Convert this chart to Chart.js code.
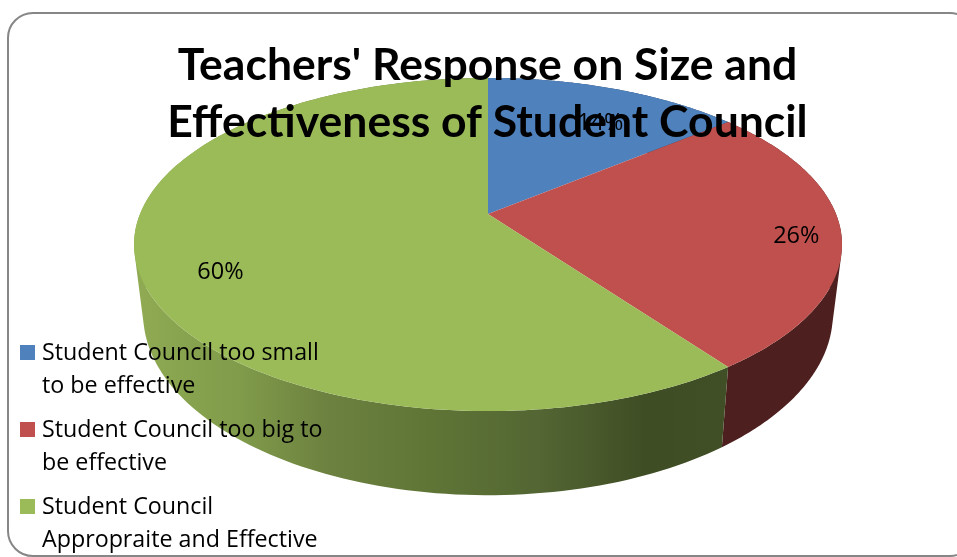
<!DOCTYPE html>
<html>
<head>
<meta charset="utf-8">
<script src="https://cdn.jsdelivr.net/npm/chart.js@4"></script>
<style>
  html, body { margin: 0; padding: 0; background: #fff; overflow: hidden; }
  #wrap { position: relative; width: 957px; height: 557px; overflow: hidden; }
  #frame { position: absolute; left: 7px; top: 12px; width: 965px; height: 541px;
           border: 2px solid #868686; border-radius: 26px; }
  #chart { position: absolute; left: 0; top: 0; }
  #legend { position: absolute; left: 20px; top: 335px; font: 23.25px/32.5px "Open Sans", sans-serif; color: #000; }
  .item { position: relative; padding-left: 22px; margin-bottom: 12px; white-space: pre; }
  .item i { position: absolute; left: 0; top: 10px; width: 15px; height: 15px; }
</style>
</head>
<body>
<div id="wrap">
  <div id="frame"></div>
  <canvas id="chart" width="957" height="557"></canvas>
  <div id="legend"></div>
</div>
<script>
// data
const categories = [
  ["Student Council too small", "to be effective"],
  ["Student Council too big to", "be effective"],
  ["Student Council", "Appropraite and Effective"]
];
const shares = [14, 26, 60];
const titleLines = ["Teachers' Response on Size and", "Effectiveness of Student Council"];
const sliceColors = ["#4f81bd", "#c0504d", "#9bbb59"];

// how far out each percent label sits, and a small drop
const labelRadius = [0.866, 0.875, 0.773];
const labelDrop = [20, 4, 18];

// pie seen in perspective: top face and bottom rim
const apexX = 488;
const tilt = -0.183;
const topFace = { a: 348, b: 161, c: 214 };
const bottomRim = { a: 339, b: 175, c: 281 };
const steps = 160;

function project(face, theta, r) {
  const u = Math.sin(theta) * r;
  const v = -Math.cos(theta) * r;
  const w = 1 + tilt * v;
  return { x: apexX + face.a * u / w, y: face.c + face.b * v / w };
}

function edge(ctx, face, from, to) {
  for (let i = 0; i <= steps; i++) {
    const p = project(face, from + (to - from) * i / steps, 1);
    ctx.lineTo(p.x, p.y);
  }
}

function wallFill(ctx, index) {
  if (index === 1) return "#4d1f1e";
  if (index === 0) return "#27405e";
  const g = ctx.createLinearGradient(134, 0, 728, 0);
  g.addColorStop(0, "#90ab53");
  g.addColorStop(0.18, "#809b4a");
  g.addColorStop(0.32, "#6d8240");
  g.addColorStop(0.5, "#5f7536");
  g.addColorStop(0.68, "#536633");
  g.addColorStop(0.86, "#3f4d24");
  g.addColorStop(1, "#414f26");
  return g;
}

const perspectivePie = {
  id: "perspectivePie",
  // painted here so the title box goes on top of the pie
  beforeDraw(chart) {
    const ctx = chart.ctx;
    const arcs = chart.getDatasetMeta(0).data;
    const angles = arcs.map(a => [a.startAngle + Math.PI / 2, a.endAngle + Math.PI / 2]);

    // side wall: strips in one path, all wound the same way so there are no seams
    angles.forEach(([from, to], i) => {
      ctx.beginPath();
      for (let s = 0; s < steps; s++) {
        const t0 = from + (to - from) * s / steps;
        const t1 = from + (to - from) * (s + 1) / steps;
        let q = [project(topFace, t0, 1), project(topFace, t1, 1), project(bottomRim, t1, 1), project(bottomRim, t0, 1)];
        let area = 0;
        q.forEach((p, k) => {
          const n = q[(k + 1) % 4];
          area += p.x * n.y - n.x * p.y;
        });
        if (area < 0) q = q.reverse();
        ctx.moveTo(q[0].x, q[0].y);
        ctx.lineTo(q[1].x, q[1].y);
        ctx.lineTo(q[2].x, q[2].y);
        ctx.lineTo(q[3].x, q[3].y);
        ctx.closePath();
      }
      ctx.fillStyle = wallFill(ctx, i);
      ctx.fill();
    });

    // top face
    angles.forEach(([from, to], i) => {
      ctx.beginPath();
      ctx.moveTo(apexX, topFace.c);
      edge(ctx, topFace, from, to);
      ctx.closePath();
      ctx.fillStyle = sliceColors[i];
      ctx.fill();
    });

    // percent labels
    ctx.font = "23.5px 'Open Sans', sans-serif";
    ctx.fillStyle = "#000";
    ctx.textAlign = "center";
    ctx.textBaseline = "middle";
    angles.forEach(([from, to], i) => {
      const p = project(topFace, (from + to) / 2, labelRadius[i]);
      ctx.fillText(shares[i] + "%", p.x, p.y + labelDrop[i]);
    });
  },
  beforeDatasetsDraw() {
    return false;
  }
};

new Chart(document.getElementById("chart"), {
  type: "pie",
  data: {
    labels: categories.map(c => c.join(" ")),
    datasets: [{
      data: shares,
      backgroundColor: sliceColors,
      borderWidth: 0
    }]
  },
  options: {
    responsive: false,
    animation: false,
    layout: { padding: { left: 18, top: 0 } },
    plugins: {
      legend: { display: false },
      tooltip: { enabled: false },
      title: {
        display: true,
        text: titleLines,
        color: "#000",
        font: { family: "Lato", size: 44.5, weight: "bold", lineHeight: 1.29 },
        padding: { top: 37, bottom: 0 }
      }
    }
  },
  plugins: [perspectivePie]
});

// legend
const legendBox = document.getElementById("legend");
categories.forEach(function (lines, i) {
  const item = document.createElement("div");
  item.className = "item";
  const swatch = document.createElement("i");
  swatch.style.background = sliceColors[i];
  item.appendChild(swatch);
  item.appendChild(document.createTextNode(lines.join("\n")));
  legendBox.appendChild(item);
});
</script>
</body>
</html>
